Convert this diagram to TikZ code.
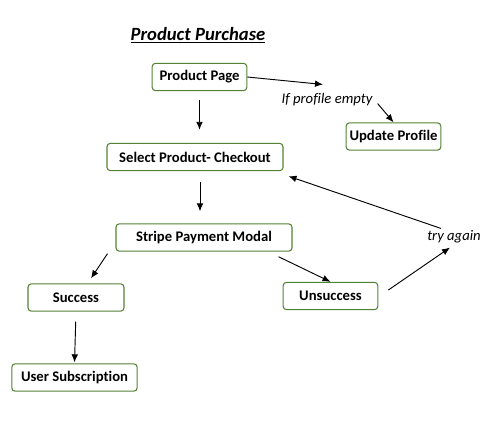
\documentclass[tikz,border=0pt]{standalone}
\usepackage{fontspec}
\setmainfont{Carlito}[Ligatures=NoCommon]
\usetikzlibrary{arrows.meta,positioning,calc}
\definecolor{boxgreen}{RGB}{84,130,53}

\begin{document}
\begin{tikzpicture}[
    x=0.75pt, y=-0.75pt,
    box/.style={rectangle, rounded corners=2.5pt, draw=boxgreen, line width=0.8pt, minimum height=20.5pt, inner sep=2pt, font=\fontsize{11}{13}\selectfont\bfseries},
    flow/.style={->, >={Latex[length=6pt,width=5pt]}, line width=0.7pt},
    label/.style={inner sep=0pt, font=\fontsize{11}{13}\selectfont\itshape}
]
    \useasboundingbox (0,0) rectangle (502,430);

    % Title
    \node[font=\fontsize{14}{16}\selectfont\bfseries\itshape] (title) at (198,35) {\underline{Product Purchase}};

    % Boxes
    \node[box, minimum width=71pt] (page) at (199.5,77) {Product Page};
    \node[box, minimum width=71pt] (profile) at (393.5,136.5) {Update Profile};
    \node[box, minimum width=132pt] (select) at (195,157) {Select Product- Checkout};
    \node[box, minimum width=132pt] (stripe) at (204,237.5) {Stripe Payment Modal};
    \node[box, minimum width=72pt] (success) at (76,297.5) {Success};
    \node[box, minimum width=71pt] (unsuccess) at (330.5,296) {Unsuccess};
    \node[box, minimum width=94pt] (subscription) at (74.5,377.5) {User Subscription};

    % Labels
    \node[label] (empty) at (327,100) {If profile empty};
    \node[label] (again) at (454,237) {try again};

    % Arrows
    \draw[flow] (page.east) -- ($(empty.north)+(-4,-9)$);
    \draw[flow] ($(empty.south east)+(5,-3)$) -- (profile.north);
    \draw[flow, shorten <=6.75pt, shorten >=9.75pt] (page.south) -- (page.south |- select.north);
    \draw[flow] ($(select.south)+(5,11)$) -- ($(stripe.north)+(-4,-12)$);
    \draw[flow] ($(stripe.south west)+(-8,2)$) -- ($(success.north)+(15,-5)$);
    \draw[flow] ($(stripe.south east)+(-14,5)$) -- (unsuccess.north);
    \draw[flow] ($(unsuccess.east)+(10,-6)$) -- ($(again.south)+(-4,4)$);
    \draw[flow] ($(again.north)+(-13,-2)$) -- ($(select.south east)+(5,5)$);
    \draw[flow, shorten <=7.5pt, shorten >=0.75pt] (success.south) -- (subscription.north);
\end{tikzpicture}
\end{document}
